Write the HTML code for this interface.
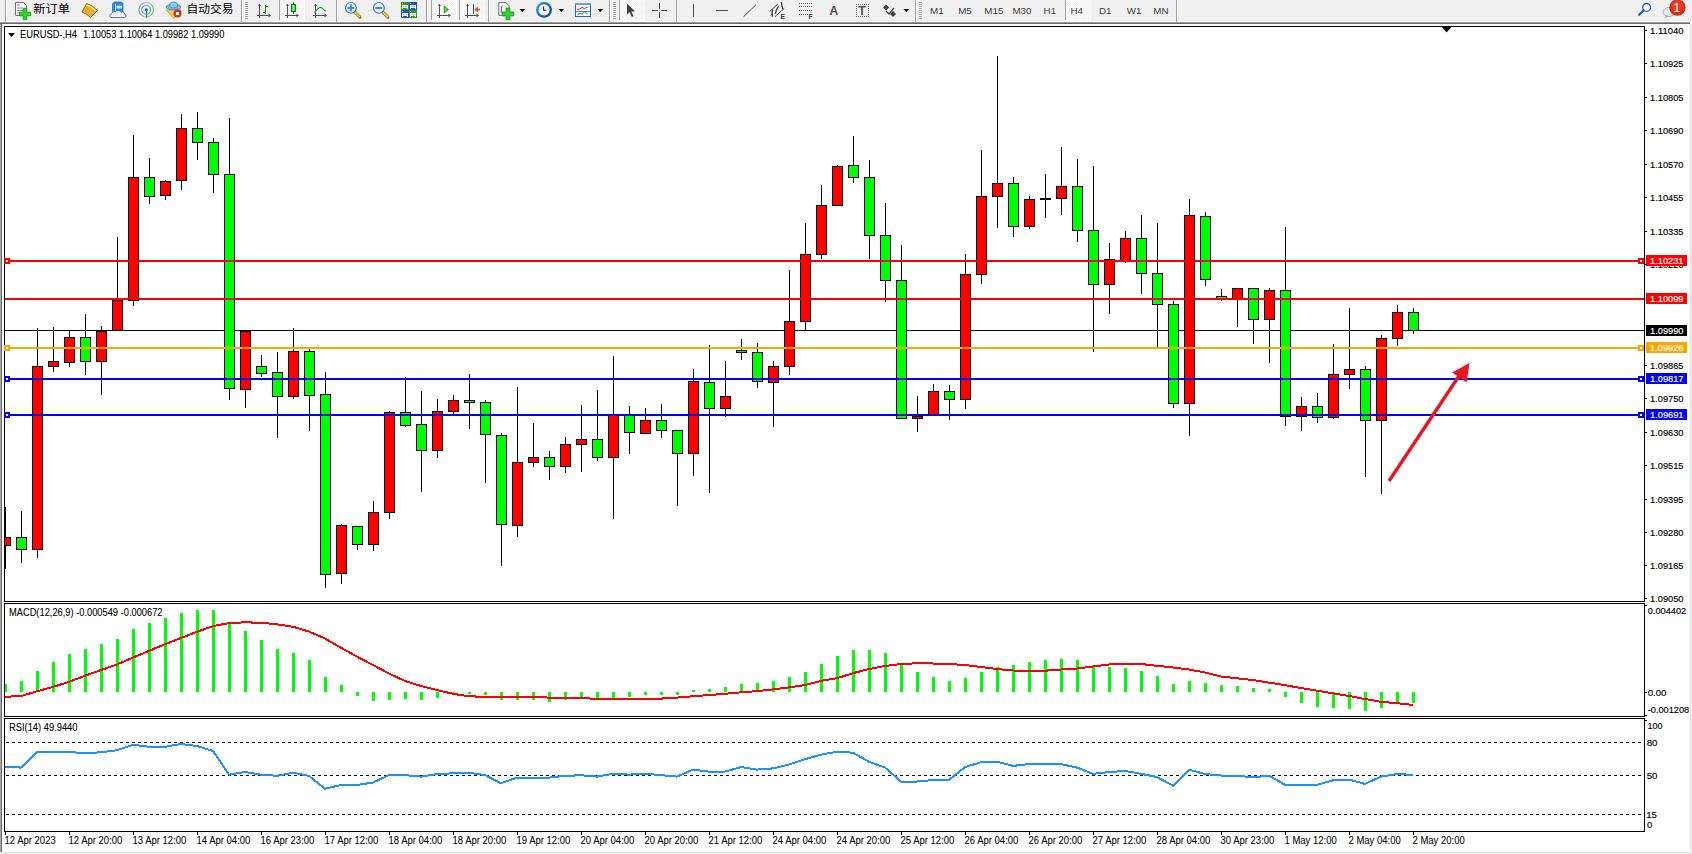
<!DOCTYPE html>
<html><head><meta charset="utf-8"><title>MT4 EURUSD H4</title>
<style>html,body{margin:0;padding:0;background:#f0f0f0;overflow:hidden}svg{display:block}text{font-family:'Liberation Sans', 'Noto Sans CJK SC', sans-serif}</style></head>
<body><svg width="1692" height="854" viewBox="0 0 1692 854" shape-rendering="crispEdges">
<rect x="0" y="0" width="1692" height="854" fill="#f0f0f0"/>
<rect x="0" y="21" width="1690" height="1" fill="#f6f6f6"/>
<rect x="0" y="22" width="1690" height="1" fill="#a0a0a0"/>
<rect x="0" y="23" width="1690" height="1" fill="#696969"/>
<rect x="0" y="24" width="2" height="828" fill="#a8a8a8"/>
<rect x="1" y="24" width="1" height="828" fill="#6a6a6a"/>
<rect x="2" y="24" width="1688" height="828" fill="#ffffff"/>
<rect x="1690" y="24" width="1" height="829" fill="#e3e3e3"/>
<rect x="0" y="852" width="1691" height="1" fill="#e3e3e3"/>
<rect x="4" y="26" width="1641" height="1" fill="#000"/>
<rect x="4" y="601" width="1641" height="1" fill="#000"/>
<rect x="4" y="26" width="1" height="576" fill="#000"/>
<rect x="1644" y="26" width="1" height="576" fill="#000"/>
<rect x="4" y="603" width="1641" height="1" fill="#000"/>
<rect x="4" y="716" width="1641" height="1" fill="#000"/>
<rect x="4" y="603" width="1" height="114" fill="#000"/>
<rect x="1644" y="603" width="1" height="114" fill="#000"/>
<rect x="4" y="718" width="1641" height="1" fill="#000"/>
<rect x="4" y="831" width="1641" height="1" fill="#000"/>
<rect x="4" y="718" width="1" height="114" fill="#000"/>
<rect x="1644" y="718" width="1" height="114" fill="#000"/>
<rect x="5" y="330" width="1639" height="1" fill="#000000"/>
<rect x="5" y="507" width="1" height="62" fill="#000"/>
<rect x="5" y="537" width="6" height="9" fill="#000"/>
<rect x="5" y="538" width="5" height="7" fill="#ff0000"/>
<rect x="21" y="511" width="1" height="52" fill="#000"/>
<rect x="16" y="537" width="11" height="13" fill="#000"/>
<rect x="17" y="538" width="9" height="11" fill="#00ff00"/>
<rect x="37" y="328" width="1" height="230" fill="#000"/>
<rect x="32" y="366" width="11" height="184" fill="#000"/>
<rect x="33" y="367" width="9" height="182" fill="#ff0000"/>
<rect x="53" y="327" width="1" height="45" fill="#000"/>
<rect x="48" y="361" width="11" height="6" fill="#000"/>
<rect x="49" y="362" width="9" height="4" fill="#ff0000"/>
<rect x="69" y="330" width="1" height="37" fill="#000"/>
<rect x="64" y="337" width="11" height="26" fill="#000"/>
<rect x="65" y="338" width="9" height="24" fill="#ff0000"/>
<rect x="85" y="314" width="1" height="61" fill="#000"/>
<rect x="80" y="337" width="11" height="25" fill="#000"/>
<rect x="81" y="338" width="9" height="23" fill="#00ff00"/>
<rect x="101" y="326" width="1" height="69" fill="#000"/>
<rect x="96" y="331" width="11" height="31" fill="#000"/>
<rect x="97" y="332" width="9" height="29" fill="#ff0000"/>
<rect x="117" y="237" width="1" height="94" fill="#000"/>
<rect x="112" y="300" width="11" height="31" fill="#000"/>
<rect x="113" y="301" width="9" height="29" fill="#ff0000"/>
<rect x="133" y="135" width="1" height="171" fill="#000"/>
<rect x="128" y="177" width="11" height="124" fill="#000"/>
<rect x="129" y="178" width="9" height="122" fill="#ff0000"/>
<rect x="149" y="158" width="1" height="46" fill="#000"/>
<rect x="144" y="177" width="11" height="20" fill="#000"/>
<rect x="145" y="178" width="9" height="18" fill="#00ff00"/>
<rect x="165" y="180" width="1" height="20" fill="#000"/>
<rect x="160" y="181" width="11" height="15" fill="#000"/>
<rect x="161" y="182" width="9" height="13" fill="#ff0000"/>
<rect x="181" y="114" width="1" height="76" fill="#000"/>
<rect x="176" y="128" width="11" height="53" fill="#000"/>
<rect x="177" y="129" width="9" height="51" fill="#ff0000"/>
<rect x="197" y="112" width="1" height="48" fill="#000"/>
<rect x="192" y="128" width="11" height="15" fill="#000"/>
<rect x="193" y="129" width="9" height="13" fill="#00ff00"/>
<rect x="213" y="138" width="1" height="55" fill="#000"/>
<rect x="208" y="142" width="11" height="33" fill="#000"/>
<rect x="209" y="143" width="9" height="31" fill="#00ff00"/>
<rect x="229" y="118" width="1" height="282" fill="#000"/>
<rect x="224" y="174" width="11" height="215" fill="#000"/>
<rect x="225" y="175" width="9" height="213" fill="#00ff00"/>
<rect x="245" y="331" width="1" height="77" fill="#000"/>
<rect x="240" y="331" width="11" height="59" fill="#000"/>
<rect x="241" y="332" width="9" height="57" fill="#ff0000"/>
<rect x="261" y="355" width="1" height="22" fill="#000"/>
<rect x="256" y="366" width="11" height="8" fill="#000"/>
<rect x="257" y="367" width="9" height="6" fill="#00ff00"/>
<rect x="277" y="352" width="1" height="86" fill="#000"/>
<rect x="272" y="372" width="11" height="25" fill="#000"/>
<rect x="273" y="373" width="9" height="23" fill="#00ff00"/>
<rect x="293" y="328" width="1" height="71" fill="#000"/>
<rect x="288" y="351" width="11" height="46" fill="#000"/>
<rect x="289" y="352" width="9" height="44" fill="#ff0000"/>
<rect x="309" y="348" width="1" height="83" fill="#000"/>
<rect x="304" y="351" width="11" height="45" fill="#000"/>
<rect x="305" y="352" width="9" height="43" fill="#00ff00"/>
<rect x="325" y="372" width="1" height="216" fill="#000"/>
<rect x="320" y="394" width="11" height="181" fill="#000"/>
<rect x="321" y="395" width="9" height="179" fill="#00ff00"/>
<rect x="341" y="524" width="1" height="60" fill="#000"/>
<rect x="336" y="525" width="11" height="49" fill="#000"/>
<rect x="337" y="526" width="9" height="47" fill="#ff0000"/>
<rect x="357" y="526" width="1" height="24" fill="#000"/>
<rect x="352" y="526" width="11" height="19" fill="#000"/>
<rect x="353" y="527" width="9" height="17" fill="#00ff00"/>
<rect x="373" y="501" width="1" height="50" fill="#000"/>
<rect x="368" y="512" width="11" height="33" fill="#000"/>
<rect x="369" y="513" width="9" height="31" fill="#ff0000"/>
<rect x="389" y="411" width="1" height="108" fill="#000"/>
<rect x="384" y="412" width="11" height="101" fill="#000"/>
<rect x="385" y="413" width="9" height="99" fill="#ff0000"/>
<rect x="405" y="377" width="1" height="50" fill="#000"/>
<rect x="400" y="412" width="11" height="14" fill="#000"/>
<rect x="401" y="413" width="9" height="12" fill="#00ff00"/>
<rect x="421" y="391" width="1" height="101" fill="#000"/>
<rect x="416" y="424" width="11" height="27" fill="#000"/>
<rect x="417" y="425" width="9" height="25" fill="#00ff00"/>
<rect x="437" y="399" width="1" height="59" fill="#000"/>
<rect x="432" y="411" width="11" height="40" fill="#000"/>
<rect x="433" y="412" width="9" height="38" fill="#ff0000"/>
<rect x="453" y="395" width="1" height="19" fill="#000"/>
<rect x="448" y="400" width="11" height="12" fill="#000"/>
<rect x="449" y="401" width="9" height="10" fill="#ff0000"/>
<rect x="469" y="374" width="1" height="55" fill="#000"/>
<rect x="464" y="400" width="11" height="3" fill="#000"/>
<rect x="465" y="401" width="9" height="1" fill="#00ff00"/>
<rect x="485" y="400" width="1" height="83" fill="#000"/>
<rect x="480" y="402" width="11" height="33" fill="#000"/>
<rect x="481" y="403" width="9" height="31" fill="#00ff00"/>
<rect x="501" y="433" width="1" height="133" fill="#000"/>
<rect x="496" y="435" width="11" height="90" fill="#000"/>
<rect x="497" y="436" width="9" height="88" fill="#00ff00"/>
<rect x="517" y="387" width="1" height="150" fill="#000"/>
<rect x="512" y="462" width="11" height="64" fill="#000"/>
<rect x="513" y="463" width="9" height="62" fill="#ff0000"/>
<rect x="533" y="423" width="1" height="44" fill="#000"/>
<rect x="528" y="457" width="11" height="6" fill="#000"/>
<rect x="529" y="458" width="9" height="4" fill="#ff0000"/>
<rect x="549" y="451" width="1" height="29" fill="#000"/>
<rect x="544" y="457" width="11" height="10" fill="#000"/>
<rect x="545" y="458" width="9" height="8" fill="#00ff00"/>
<rect x="565" y="437" width="1" height="36" fill="#000"/>
<rect x="560" y="444" width="11" height="23" fill="#000"/>
<rect x="561" y="445" width="9" height="21" fill="#ff0000"/>
<rect x="581" y="405" width="1" height="67" fill="#000"/>
<rect x="576" y="439" width="11" height="6" fill="#000"/>
<rect x="577" y="440" width="9" height="4" fill="#ff0000"/>
<rect x="597" y="390" width="1" height="71" fill="#000"/>
<rect x="592" y="439" width="11" height="19" fill="#000"/>
<rect x="593" y="440" width="9" height="17" fill="#00ff00"/>
<rect x="613" y="356" width="1" height="163" fill="#000"/>
<rect x="608" y="415" width="11" height="43" fill="#000"/>
<rect x="609" y="416" width="9" height="41" fill="#ff0000"/>
<rect x="629" y="406" width="1" height="48" fill="#000"/>
<rect x="624" y="415" width="11" height="18" fill="#000"/>
<rect x="625" y="416" width="9" height="16" fill="#00ff00"/>
<rect x="645" y="408" width="1" height="26" fill="#000"/>
<rect x="640" y="420" width="11" height="14" fill="#000"/>
<rect x="641" y="421" width="9" height="12" fill="#ff0000"/>
<rect x="661" y="404" width="1" height="34" fill="#000"/>
<rect x="656" y="420" width="11" height="11" fill="#000"/>
<rect x="657" y="421" width="9" height="9" fill="#00ff00"/>
<rect x="677" y="430" width="1" height="76" fill="#000"/>
<rect x="672" y="430" width="11" height="24" fill="#000"/>
<rect x="673" y="431" width="9" height="22" fill="#00ff00"/>
<rect x="693" y="369" width="1" height="107" fill="#000"/>
<rect x="688" y="381" width="11" height="73" fill="#000"/>
<rect x="689" y="382" width="9" height="71" fill="#ff0000"/>
<rect x="709" y="345" width="1" height="148" fill="#000"/>
<rect x="704" y="382" width="11" height="27" fill="#000"/>
<rect x="705" y="383" width="9" height="25" fill="#00ff00"/>
<rect x="725" y="361" width="1" height="56" fill="#000"/>
<rect x="720" y="396" width="11" height="13" fill="#000"/>
<rect x="721" y="397" width="9" height="11" fill="#ff0000"/>
<rect x="741" y="339" width="1" height="21" fill="#000"/>
<rect x="736" y="350" width="11" height="3" fill="#000"/>
<rect x="737" y="351" width="9" height="1" fill="#00ff00"/>
<rect x="757" y="343" width="1" height="45" fill="#000"/>
<rect x="752" y="352" width="11" height="30" fill="#000"/>
<rect x="753" y="353" width="9" height="28" fill="#00ff00"/>
<rect x="773" y="361" width="1" height="66" fill="#000"/>
<rect x="768" y="366" width="11" height="17" fill="#000"/>
<rect x="769" y="367" width="9" height="15" fill="#ff0000"/>
<rect x="789" y="270" width="1" height="105" fill="#000"/>
<rect x="784" y="321" width="11" height="46" fill="#000"/>
<rect x="785" y="322" width="9" height="44" fill="#ff0000"/>
<rect x="805" y="223" width="1" height="108" fill="#000"/>
<rect x="800" y="254" width="11" height="68" fill="#000"/>
<rect x="801" y="255" width="9" height="66" fill="#ff0000"/>
<rect x="821" y="185" width="1" height="74" fill="#000"/>
<rect x="816" y="205" width="11" height="50" fill="#000"/>
<rect x="817" y="206" width="9" height="48" fill="#ff0000"/>
<rect x="837" y="165" width="1" height="41" fill="#000"/>
<rect x="832" y="166" width="11" height="40" fill="#000"/>
<rect x="833" y="167" width="9" height="38" fill="#ff0000"/>
<rect x="853" y="136" width="1" height="47" fill="#000"/>
<rect x="848" y="165" width="11" height="13" fill="#000"/>
<rect x="849" y="166" width="9" height="11" fill="#00ff00"/>
<rect x="869" y="160" width="1" height="99" fill="#000"/>
<rect x="864" y="177" width="11" height="59" fill="#000"/>
<rect x="865" y="178" width="9" height="57" fill="#00ff00"/>
<rect x="885" y="203" width="1" height="99" fill="#000"/>
<rect x="880" y="235" width="11" height="46" fill="#000"/>
<rect x="881" y="236" width="9" height="44" fill="#00ff00"/>
<rect x="901" y="245" width="1" height="174" fill="#000"/>
<rect x="896" y="280" width="11" height="139" fill="#000"/>
<rect x="897" y="281" width="9" height="137" fill="#00ff00"/>
<rect x="917" y="396" width="1" height="36" fill="#000"/>
<rect x="912" y="416" width="11" height="3" fill="#000"/>
<rect x="913" y="417" width="9" height="1" fill="#ff0000"/>
<rect x="933" y="384" width="1" height="31" fill="#000"/>
<rect x="928" y="391" width="11" height="24" fill="#000"/>
<rect x="929" y="392" width="9" height="22" fill="#ff0000"/>
<rect x="949" y="385" width="1" height="35" fill="#000"/>
<rect x="944" y="391" width="11" height="9" fill="#000"/>
<rect x="945" y="392" width="9" height="7" fill="#00ff00"/>
<rect x="965" y="254" width="1" height="155" fill="#000"/>
<rect x="960" y="274" width="11" height="126" fill="#000"/>
<rect x="961" y="275" width="9" height="124" fill="#ff0000"/>
<rect x="981" y="150" width="1" height="134" fill="#000"/>
<rect x="976" y="196" width="11" height="79" fill="#000"/>
<rect x="977" y="197" width="9" height="77" fill="#ff0000"/>
<rect x="997" y="56" width="1" height="172" fill="#000"/>
<rect x="992" y="183" width="11" height="14" fill="#000"/>
<rect x="993" y="184" width="9" height="12" fill="#ff0000"/>
<rect x="1013" y="177" width="1" height="60" fill="#000"/>
<rect x="1008" y="183" width="11" height="44" fill="#000"/>
<rect x="1009" y="184" width="9" height="42" fill="#00ff00"/>
<rect x="1029" y="196" width="1" height="33" fill="#000"/>
<rect x="1024" y="199" width="11" height="28" fill="#000"/>
<rect x="1025" y="200" width="9" height="26" fill="#ff0000"/>
<rect x="1045" y="174" width="1" height="44" fill="#000"/>
<rect x="1040" y="198" width="11" height="2" fill="#000"/>
<rect x="1061" y="147" width="1" height="68" fill="#000"/>
<rect x="1056" y="186" width="11" height="13" fill="#000"/>
<rect x="1057" y="187" width="9" height="11" fill="#ff0000"/>
<rect x="1077" y="159" width="1" height="83" fill="#000"/>
<rect x="1072" y="186" width="11" height="45" fill="#000"/>
<rect x="1073" y="187" width="9" height="43" fill="#00ff00"/>
<rect x="1093" y="166" width="1" height="186" fill="#000"/>
<rect x="1088" y="230" width="11" height="55" fill="#000"/>
<rect x="1089" y="231" width="9" height="53" fill="#00ff00"/>
<rect x="1109" y="243" width="1" height="71" fill="#000"/>
<rect x="1104" y="259" width="11" height="26" fill="#000"/>
<rect x="1105" y="260" width="9" height="24" fill="#ff0000"/>
<rect x="1125" y="231" width="1" height="32" fill="#000"/>
<rect x="1120" y="238" width="11" height="24" fill="#000"/>
<rect x="1121" y="239" width="9" height="22" fill="#ff0000"/>
<rect x="1141" y="215" width="1" height="79" fill="#000"/>
<rect x="1136" y="238" width="11" height="36" fill="#000"/>
<rect x="1137" y="239" width="9" height="34" fill="#00ff00"/>
<rect x="1157" y="223" width="1" height="125" fill="#000"/>
<rect x="1152" y="273" width="11" height="32" fill="#000"/>
<rect x="1153" y="274" width="9" height="30" fill="#00ff00"/>
<rect x="1173" y="301" width="1" height="107" fill="#000"/>
<rect x="1168" y="304" width="11" height="100" fill="#000"/>
<rect x="1169" y="305" width="9" height="98" fill="#00ff00"/>
<rect x="1189" y="199" width="1" height="237" fill="#000"/>
<rect x="1184" y="215" width="11" height="189" fill="#000"/>
<rect x="1185" y="216" width="9" height="187" fill="#ff0000"/>
<rect x="1205" y="212" width="1" height="74" fill="#000"/>
<rect x="1200" y="216" width="11" height="64" fill="#000"/>
<rect x="1201" y="217" width="9" height="62" fill="#00ff00"/>
<rect x="1221" y="289" width="1" height="12" fill="#000"/>
<rect x="1216" y="296" width="11" height="3" fill="#000"/>
<rect x="1217" y="297" width="9" height="1" fill="#00ff00"/>
<rect x="1237" y="288" width="1" height="39" fill="#000"/>
<rect x="1232" y="288" width="11" height="11" fill="#000"/>
<rect x="1233" y="289" width="9" height="9" fill="#ff0000"/>
<rect x="1253" y="288" width="1" height="56" fill="#000"/>
<rect x="1248" y="288" width="11" height="32" fill="#000"/>
<rect x="1249" y="289" width="9" height="30" fill="#00ff00"/>
<rect x="1269" y="288" width="1" height="75" fill="#000"/>
<rect x="1264" y="290" width="11" height="30" fill="#000"/>
<rect x="1265" y="291" width="9" height="28" fill="#ff0000"/>
<rect x="1285" y="227" width="1" height="199" fill="#000"/>
<rect x="1280" y="290" width="11" height="127" fill="#000"/>
<rect x="1281" y="291" width="9" height="125" fill="#00ff00"/>
<rect x="1301" y="397" width="1" height="34" fill="#000"/>
<rect x="1296" y="406" width="11" height="11" fill="#000"/>
<rect x="1297" y="407" width="9" height="9" fill="#ff0000"/>
<rect x="1317" y="393" width="1" height="30" fill="#000"/>
<rect x="1312" y="406" width="11" height="12" fill="#000"/>
<rect x="1313" y="407" width="9" height="10" fill="#00ff00"/>
<rect x="1333" y="344" width="1" height="75" fill="#000"/>
<rect x="1328" y="374" width="11" height="44" fill="#000"/>
<rect x="1329" y="375" width="9" height="42" fill="#ff0000"/>
<rect x="1349" y="308" width="1" height="81" fill="#000"/>
<rect x="1344" y="369" width="11" height="6" fill="#000"/>
<rect x="1345" y="370" width="9" height="4" fill="#ff0000"/>
<rect x="1365" y="366" width="1" height="111" fill="#000"/>
<rect x="1360" y="369" width="11" height="52" fill="#000"/>
<rect x="1361" y="370" width="9" height="50" fill="#00ff00"/>
<rect x="1381" y="335" width="1" height="159" fill="#000"/>
<rect x="1376" y="338" width="11" height="83" fill="#000"/>
<rect x="1377" y="339" width="9" height="81" fill="#ff0000"/>
<rect x="1397" y="305" width="1" height="41" fill="#000"/>
<rect x="1392" y="312" width="11" height="27" fill="#000"/>
<rect x="1393" y="313" width="9" height="25" fill="#ff0000"/>
<rect x="1413" y="308" width="1" height="26" fill="#000"/>
<rect x="1408" y="312" width="11" height="19" fill="#000"/>
<rect x="1409" y="313" width="9" height="17" fill="#00ff00"/>
<rect x="5" y="260" width="1639" height="2" fill="#ff0000"/>
<rect x="5" y="298" width="1639" height="2" fill="#ff0000"/>
<rect x="5" y="347" width="1639" height="2" fill="#ffa500"/>
<rect x="5" y="378" width="1639" height="2" fill="#0000ff"/>
<rect x="5" y="414" width="1639" height="2" fill="#0000ff"/>
<rect x="4" y="258" width="6" height="6" fill="#ff0000"/>
<rect x="6" y="260" width="2" height="2" fill="#ffffff"/>
<rect x="1638" y="258" width="6" height="6" fill="#ff0000"/>
<rect x="1640" y="260" width="2" height="2" fill="#ffffff"/>
<rect x="4" y="345" width="6" height="6" fill="#ffa500"/>
<rect x="6" y="347" width="2" height="2" fill="#ffffff"/>
<rect x="1638" y="345" width="6" height="6" fill="#ffa500"/>
<rect x="1640" y="347" width="2" height="2" fill="#ffffff"/>
<rect x="4" y="376" width="6" height="6" fill="#0000ff"/>
<rect x="6" y="378" width="2" height="2" fill="#ffffff"/>
<rect x="1638" y="376" width="6" height="6" fill="#0000ff"/>
<rect x="1640" y="378" width="2" height="2" fill="#ffffff"/>
<rect x="4" y="412" width="6" height="6" fill="#0000ff"/>
<rect x="6" y="414" width="2" height="2" fill="#ffffff"/>
<rect x="1638" y="412" width="6" height="6" fill="#0000ff"/>
<rect x="1640" y="414" width="2" height="2" fill="#ffffff"/>
<polygon points="1441,26 1452.2,26 1446.6,32.6" fill="#000" shape-rendering="auto"/>
<line x1="1389" y1="481" x2="1461" y2="373" stroke="#ea1520" stroke-width="3.4" stroke-linecap="butt" shape-rendering="auto"/>
<polygon points="1469.5,363 1452.1,372.4 1466.7,382.4" fill="#ea1520" shape-rendering="auto"/>
<polygon points="8,33 15,33 11.5,37" fill="#000" shape-rendering="auto"/>
<text transform="translate(20,37.5) scale(1,1.05)" x="0" y="0" font-size="9.6" fill="#000" stroke="#000" stroke-width="0.08" textLength="57" lengthAdjust="spacingAndGlyphs">EURUSD-,H4</text>
<text transform="translate(82.9,37.5) scale(1,1.05)" x="0" y="0" font-size="9.6" fill="#000" stroke="#000" stroke-width="0.08" textLength="141.5" lengthAdjust="spacingAndGlyphs">1.10053 1.10064 1.09982 1.09990</text>
<rect x="1645" y="30" width="2" height="1" fill="#000"/>
<text x="1650" y="34" font-size="9.6" fill="#000" stroke="#000" stroke-width="0.15" textLength="33.5" lengthAdjust="spacingAndGlyphs">1.11040</text>
<rect x="1645" y="63" width="2" height="1" fill="#000"/>
<text x="1650" y="67" font-size="9.6" fill="#000" stroke="#000" stroke-width="0.15" textLength="33.5" lengthAdjust="spacingAndGlyphs">1.10925</text>
<rect x="1645" y="97" width="2" height="1" fill="#000"/>
<text x="1650" y="101" font-size="9.6" fill="#000" stroke="#000" stroke-width="0.15" textLength="33.5" lengthAdjust="spacingAndGlyphs">1.10805</text>
<rect x="1645" y="130" width="2" height="1" fill="#000"/>
<text x="1650" y="134" font-size="9.6" fill="#000" stroke="#000" stroke-width="0.15" textLength="33.5" lengthAdjust="spacingAndGlyphs">1.10690</text>
<rect x="1645" y="164" width="2" height="1" fill="#000"/>
<text x="1650" y="168" font-size="9.6" fill="#000" stroke="#000" stroke-width="0.15" textLength="33.5" lengthAdjust="spacingAndGlyphs">1.10570</text>
<rect x="1645" y="197" width="2" height="1" fill="#000"/>
<text x="1650" y="201" font-size="9.6" fill="#000" stroke="#000" stroke-width="0.15" textLength="33.5" lengthAdjust="spacingAndGlyphs">1.10455</text>
<rect x="1645" y="231" width="2" height="1" fill="#000"/>
<text x="1650" y="235" font-size="9.6" fill="#000" stroke="#000" stroke-width="0.15" textLength="33.5" lengthAdjust="spacingAndGlyphs">1.10335</text>
<rect x="1645" y="264" width="2" height="1" fill="#000"/>
<text x="1650" y="268" font-size="9.6" fill="#000" stroke="#000" stroke-width="0.15" textLength="33.5" lengthAdjust="spacingAndGlyphs">1.10220</text>
<rect x="1645" y="365" width="2" height="1" fill="#000"/>
<text x="1650" y="369" font-size="9.6" fill="#000" stroke="#000" stroke-width="0.15" textLength="33.5" lengthAdjust="spacingAndGlyphs">1.09865</text>
<rect x="1645" y="398" width="2" height="1" fill="#000"/>
<text x="1650" y="402" font-size="9.6" fill="#000" stroke="#000" stroke-width="0.15" textLength="33.5" lengthAdjust="spacingAndGlyphs">1.09750</text>
<rect x="1645" y="432" width="2" height="1" fill="#000"/>
<text x="1650" y="436" font-size="9.6" fill="#000" stroke="#000" stroke-width="0.15" textLength="33.5" lengthAdjust="spacingAndGlyphs">1.09630</text>
<rect x="1645" y="465" width="2" height="1" fill="#000"/>
<text x="1650" y="469" font-size="9.6" fill="#000" stroke="#000" stroke-width="0.15" textLength="33.5" lengthAdjust="spacingAndGlyphs">1.09515</text>
<rect x="1645" y="499" width="2" height="1" fill="#000"/>
<text x="1650" y="503" font-size="9.6" fill="#000" stroke="#000" stroke-width="0.15" textLength="33.5" lengthAdjust="spacingAndGlyphs">1.09395</text>
<rect x="1645" y="532" width="2" height="1" fill="#000"/>
<text x="1650" y="536" font-size="9.6" fill="#000" stroke="#000" stroke-width="0.15" textLength="33.5" lengthAdjust="spacingAndGlyphs">1.09280</text>
<rect x="1645" y="565" width="2" height="1" fill="#000"/>
<text x="1650" y="569" font-size="9.6" fill="#000" stroke="#000" stroke-width="0.15" textLength="33.5" lengthAdjust="spacingAndGlyphs">1.09165</text>
<rect x="1645" y="598" width="2" height="1" fill="#000"/>
<text x="1650" y="602" font-size="9.6" fill="#000" stroke="#000" stroke-width="0.15" textLength="33.5" lengthAdjust="spacingAndGlyphs">1.09050</text>
<rect x="1646" y="255" width="41" height="11" fill="#ff0000"/>
<text x="1650" y="264" font-size="9.6" fill="#fff" stroke="#fff" stroke-width="0.15" textLength="33.5" lengthAdjust="spacingAndGlyphs">1.10231</text>
<rect x="1646" y="293" width="41" height="11" fill="#ff0000"/>
<text x="1650" y="302" font-size="9.6" fill="#fff" stroke="#fff" stroke-width="0.15" textLength="33.5" lengthAdjust="spacingAndGlyphs">1.10099</text>
<rect x="1646" y="325" width="41" height="11" fill="#000000"/>
<text x="1650" y="334" font-size="9.6" fill="#fff" stroke="#fff" stroke-width="0.15" textLength="33.5" lengthAdjust="spacingAndGlyphs">1.09990</text>
<rect x="1646" y="342" width="41" height="11" fill="#ffa500"/>
<text x="1650" y="351" font-size="9.6" fill="#fff" stroke="#fff" stroke-width="0.15" textLength="33.5" lengthAdjust="spacingAndGlyphs">1.09926</text>
<rect x="1646" y="373" width="41" height="11" fill="#0000ff"/>
<text x="1650" y="382" font-size="9.6" fill="#fff" stroke="#fff" stroke-width="0.15" textLength="33.5" lengthAdjust="spacingAndGlyphs">1.09817</text>
<rect x="1646" y="409" width="41" height="11" fill="#0000ff"/>
<text x="1650" y="418" font-size="9.6" fill="#fff" stroke="#fff" stroke-width="0.15" textLength="33.5" lengthAdjust="spacingAndGlyphs">1.09691</text>
<rect x="5" y="684" width="2" height="8" fill="#00ff00"/>
<rect x="20" y="681" width="3" height="11" fill="#00ff00"/>
<rect x="36" y="671" width="3" height="21" fill="#00ff00"/>
<rect x="52" y="662" width="3" height="30" fill="#00ff00"/>
<rect x="68" y="654" width="3" height="38" fill="#00ff00"/>
<rect x="84" y="649" width="3" height="43" fill="#00ff00"/>
<rect x="100" y="644" width="3" height="48" fill="#00ff00"/>
<rect x="116" y="639" width="3" height="53" fill="#00ff00"/>
<rect x="132" y="629" width="3" height="63" fill="#00ff00"/>
<rect x="148" y="623" width="3" height="69" fill="#00ff00"/>
<rect x="164" y="618" width="3" height="74" fill="#00ff00"/>
<rect x="180" y="613" width="3" height="79" fill="#00ff00"/>
<rect x="196" y="610" width="3" height="82" fill="#00ff00"/>
<rect x="212" y="610" width="3" height="82" fill="#00ff00"/>
<rect x="228" y="624" width="3" height="68" fill="#00ff00"/>
<rect x="244" y="631" width="3" height="61" fill="#00ff00"/>
<rect x="260" y="640" width="3" height="52" fill="#00ff00"/>
<rect x="276" y="649" width="3" height="43" fill="#00ff00"/>
<rect x="292" y="653" width="3" height="39" fill="#00ff00"/>
<rect x="308" y="660" width="3" height="32" fill="#00ff00"/>
<rect x="324" y="677" width="3" height="15" fill="#00ff00"/>
<rect x="340" y="685" width="3" height="7" fill="#00ff00"/>
<rect x="356" y="692" width="3" height="4" fill="#00ff00"/>
<rect x="372" y="692" width="3" height="9" fill="#00ff00"/>
<rect x="388" y="692" width="3" height="8" fill="#00ff00"/>
<rect x="404" y="692" width="3" height="7" fill="#00ff00"/>
<rect x="420" y="692" width="3" height="8" fill="#00ff00"/>
<rect x="436" y="692" width="3" height="6" fill="#00ff00"/>
<rect x="452" y="692" width="3" height="3" fill="#00ff00"/>
<rect x="468" y="692" width="3" height="2" fill="#00ff00"/>
<rect x="484" y="692" width="3" height="3" fill="#00ff00"/>
<rect x="500" y="692" width="3" height="8" fill="#00ff00"/>
<rect x="516" y="692" width="3" height="8" fill="#00ff00"/>
<rect x="532" y="692" width="3" height="8" fill="#00ff00"/>
<rect x="548" y="692" width="3" height="10" fill="#00ff00"/>
<rect x="564" y="692" width="3" height="8" fill="#00ff00"/>
<rect x="580" y="692" width="3" height="7" fill="#00ff00"/>
<rect x="596" y="692" width="3" height="6" fill="#00ff00"/>
<rect x="612" y="692" width="3" height="6" fill="#00ff00"/>
<rect x="628" y="692" width="3" height="5" fill="#00ff00"/>
<rect x="644" y="692" width="3" height="3" fill="#00ff00"/>
<rect x="660" y="692" width="3" height="3" fill="#00ff00"/>
<rect x="676" y="692" width="3" height="3" fill="#00ff00"/>
<rect x="692" y="690" width="3" height="2" fill="#00ff00"/>
<rect x="708" y="689" width="3" height="3" fill="#00ff00"/>
<rect x="724" y="687" width="3" height="5" fill="#00ff00"/>
<rect x="740" y="684" width="3" height="8" fill="#00ff00"/>
<rect x="756" y="683" width="3" height="9" fill="#00ff00"/>
<rect x="772" y="681" width="3" height="11" fill="#00ff00"/>
<rect x="788" y="677" width="3" height="15" fill="#00ff00"/>
<rect x="804" y="672" width="3" height="20" fill="#00ff00"/>
<rect x="820" y="664" width="3" height="28" fill="#00ff00"/>
<rect x="836" y="656" width="3" height="36" fill="#00ff00"/>
<rect x="852" y="650" width="3" height="42" fill="#00ff00"/>
<rect x="868" y="650" width="3" height="42" fill="#00ff00"/>
<rect x="884" y="653" width="3" height="39" fill="#00ff00"/>
<rect x="900" y="665" width="3" height="27" fill="#00ff00"/>
<rect x="916" y="672" width="3" height="20" fill="#00ff00"/>
<rect x="932" y="677" width="3" height="15" fill="#00ff00"/>
<rect x="948" y="681" width="3" height="11" fill="#00ff00"/>
<rect x="964" y="678" width="3" height="14" fill="#00ff00"/>
<rect x="980" y="672" width="3" height="20" fill="#00ff00"/>
<rect x="996" y="667" width="3" height="25" fill="#00ff00"/>
<rect x="1012" y="665" width="3" height="27" fill="#00ff00"/>
<rect x="1028" y="662" width="3" height="30" fill="#00ff00"/>
<rect x="1044" y="660" width="3" height="32" fill="#00ff00"/>
<rect x="1060" y="659" width="3" height="33" fill="#00ff00"/>
<rect x="1076" y="660" width="3" height="32" fill="#00ff00"/>
<rect x="1092" y="665" width="3" height="27" fill="#00ff00"/>
<rect x="1108" y="667" width="3" height="25" fill="#00ff00"/>
<rect x="1124" y="668" width="3" height="24" fill="#00ff00"/>
<rect x="1140" y="671" width="3" height="21" fill="#00ff00"/>
<rect x="1156" y="676" width="3" height="16" fill="#00ff00"/>
<rect x="1172" y="684" width="3" height="8" fill="#00ff00"/>
<rect x="1188" y="681" width="3" height="11" fill="#00ff00"/>
<rect x="1204" y="683" width="3" height="9" fill="#00ff00"/>
<rect x="1220" y="685" width="3" height="7" fill="#00ff00"/>
<rect x="1236" y="686" width="3" height="6" fill="#00ff00"/>
<rect x="1252" y="688" width="3" height="4" fill="#00ff00"/>
<rect x="1268" y="689" width="3" height="3" fill="#00ff00"/>
<rect x="1284" y="692" width="3" height="5" fill="#00ff00"/>
<rect x="1300" y="692" width="3" height="11" fill="#00ff00"/>
<rect x="1316" y="692" width="3" height="15" fill="#00ff00"/>
<rect x="1332" y="692" width="3" height="16" fill="#00ff00"/>
<rect x="1348" y="692" width="3" height="17" fill="#00ff00"/>
<rect x="1364" y="692" width="3" height="19" fill="#00ff00"/>
<rect x="1380" y="692" width="3" height="16" fill="#00ff00"/>
<rect x="1396" y="692" width="3" height="11" fill="#00ff00"/>
<rect x="1412" y="692" width="3" height="11" fill="#00ff00"/>
<polyline points="5,696.8 21,696 37,691.3 53,686.9 69,681.9 85,675.7 101,670 117,664.5 133,657.6 149,650.9 165,644.2 181,638 197,631.8 213,626.1 229,623.1 245,622.3 261,622.8 277,624.3 293,626.8 309,631.5 325,638.5 341,647.7 357,656.6 373,665 389,673.5 405,681 421,686 437,690 453,693.8 469,696.3 485,696.8 501,696.8 517,696.8 533,696.8 549,697.6 565,698 581,698.4 597,698.6 613,698.8 629,698.8 645,698.8 661,698.6 677,697.6 693,696.3 709,695 725,693.8 741,692.3 757,691.1 773,689.4 789,687.4 805,685.1 821,680.9 837,678.2 853,673.2 869,669 885,666 901,664 917,663.3 933,663.5 949,664 965,665 981,667 997,669 1013,670.5 1029,670.7 1045,670.7 1061,669.5 1077,668.5 1093,666.5 1109,664.5 1125,663.8 1141,664 1157,665.8 1173,667.5 1189,669.5 1205,672.5 1221,676.5 1237,678.3 1253,680 1269,682.6 1285,685.2 1301,688 1317,690.7 1333,693.4 1349,696 1365,699 1381,701.8 1397,703.2 1413,705" fill="none" stroke="#ff0000" stroke-width="2" stroke-linejoin="round"/>
<text transform="translate(9,615.8) scale(1,1.08)" x="0" y="0" font-size="9.5" fill="#000" stroke="#000" stroke-width="0.08" textLength="153.5" lengthAdjust="spacingAndGlyphs">MACD(12,26,9) -0.000549 -0.000672</text>
<rect x="1645" y="605" width="2" height="1" fill="#000"/>
<text x="1647.7" y="614" font-size="9.6" fill="#000" stroke="#000" stroke-width="0.15" textLength="38.5" lengthAdjust="spacingAndGlyphs">0.004402</text>
<rect x="1645" y="692" width="2" height="1" fill="#000"/>
<text x="1647.7" y="696" font-size="9.6" fill="#000" stroke="#000" stroke-width="0.15" textLength="18.8" lengthAdjust="spacingAndGlyphs">0.00</text>
<rect x="1645" y="715" width="2" height="1" fill="#000"/>
<text x="1647.7" y="713" font-size="9.6" fill="#000" stroke="#000" stroke-width="0.15" textLength="41.5" lengthAdjust="spacingAndGlyphs">-0.001208</text>
<line x1="6" y1="742.5" x2="1642" y2="742.5" stroke="#000" stroke-width="1" stroke-dasharray="3,3"/>
<line x1="6" y1="775.5" x2="1642" y2="775.5" stroke="#000" stroke-width="1" stroke-dasharray="3,3"/>
<line x1="6" y1="814.5" x2="1642" y2="814.5" stroke="#000" stroke-width="1" stroke-dasharray="3,3"/>
<polyline points="5,766.6 21,767.6 37,752.2 53,751.7 69,751.7 85,753.5 101,752.2 117,750.2 133,744.8 149,746.8 165,746.8 181,744 197,746 213,751 229,774.6 245,772.1 261,774.6 277,775.8 293,772.8 309,775.8 325,788.7 341,785 357,785 373,782.5 389,775.1 405,775.1 421,776.6 437,774.1 453,773.3 469,772.8 485,775.1 501,783.3 517,777.6 533,777.6 549,777.6 565,775.8 581,775.3 597,776.6 613,773.8 629,774.6 645,773.8 661,775.1 677,776.6 693,769.6 709,771.6 725,771.6 741,767.1 757,769.6 773,768.4 789,764.6 805,759.2 821,754.7 837,751.7 853,752.7 869,761.7 885,767.6 901,781.5 917,781.5 933,780 949,780 965,767.1 981,762.2 997,761.7 1013,765.9 1029,764.1 1045,763.7 1061,764.1 1077,767.6 1093,773.8 1109,772.1 1125,770.9 1141,773.8 1157,777 1173,785.7 1189,769.6 1205,774 1221,775.5 1237,775.5 1253,777.5 1269,775.5 1285,784.8 1301,784.8 1317,784.8 1333,780.4 1349,779.6 1365,783.9 1381,776.6 1397,774 1413,774.9" fill="none" stroke="#1e90ff" stroke-width="2" stroke-linejoin="round"/>
<text transform="translate(9,730.6) scale(1,1.08)" x="0" y="0" font-size="9.5" fill="#000" stroke="#000" stroke-width="0.08" textLength="68.5" lengthAdjust="spacingAndGlyphs">RSI(14) 49.9440</text>
<rect x="1645" y="720" width="2" height="1" fill="#000"/>
<text x="1647.5" y="729" font-size="9.6" fill="#000" stroke="#000" stroke-width="0.15" textLength="15" lengthAdjust="spacingAndGlyphs">100</text>
<text x="1646.7" y="746" font-size="9.6" fill="#000" stroke="#000" stroke-width="0.15" textLength="10.8" lengthAdjust="spacingAndGlyphs">80</text>
<text x="1646.7" y="779" font-size="9.6" fill="#000" stroke="#000" stroke-width="0.15" textLength="10.8" lengthAdjust="spacingAndGlyphs">50</text>
<text x="1646.2" y="818" font-size="9.6" fill="#000" stroke="#000" stroke-width="0.15" textLength="10.8" lengthAdjust="spacingAndGlyphs">15</text>
<text x="1647" y="828" font-size="9.6" fill="#000" stroke="#000" stroke-width="0.15">0</text>
<rect x="5" y="832" width="1" height="3" fill="#000"/>
<text transform="translate(4.5,844) scale(1,1.13)" x="0" y="0" font-size="9.5" fill="#000" stroke="#000" stroke-width="0.05">12 Apr 2023</text>
<rect x="69" y="832" width="1" height="3" fill="#000"/>
<text transform="translate(68.5,844) scale(1,1.13)" x="0" y="0" font-size="9.5" fill="#000" stroke="#000" stroke-width="0.05">12 Apr 20:00</text>
<rect x="133" y="832" width="1" height="3" fill="#000"/>
<text transform="translate(132.5,844) scale(1,1.13)" x="0" y="0" font-size="9.5" fill="#000" stroke="#000" stroke-width="0.05">13 Apr 12:00</text>
<rect x="197" y="832" width="1" height="3" fill="#000"/>
<text transform="translate(196.5,844) scale(1,1.13)" x="0" y="0" font-size="9.5" fill="#000" stroke="#000" stroke-width="0.05">14 Apr 04:00</text>
<rect x="261" y="832" width="1" height="3" fill="#000"/>
<text transform="translate(260.5,844) scale(1,1.13)" x="0" y="0" font-size="9.5" fill="#000" stroke="#000" stroke-width="0.05">16 Apr 23:00</text>
<rect x="325" y="832" width="1" height="3" fill="#000"/>
<text transform="translate(324.5,844) scale(1,1.13)" x="0" y="0" font-size="9.5" fill="#000" stroke="#000" stroke-width="0.05">17 Apr 12:00</text>
<rect x="389" y="832" width="1" height="3" fill="#000"/>
<text transform="translate(388.5,844) scale(1,1.13)" x="0" y="0" font-size="9.5" fill="#000" stroke="#000" stroke-width="0.05">18 Apr 04:00</text>
<rect x="453" y="832" width="1" height="3" fill="#000"/>
<text transform="translate(452.5,844) scale(1,1.13)" x="0" y="0" font-size="9.5" fill="#000" stroke="#000" stroke-width="0.05">18 Apr 20:00</text>
<rect x="517" y="832" width="1" height="3" fill="#000"/>
<text transform="translate(516.5,844) scale(1,1.13)" x="0" y="0" font-size="9.5" fill="#000" stroke="#000" stroke-width="0.05">19 Apr 12:00</text>
<rect x="581" y="832" width="1" height="3" fill="#000"/>
<text transform="translate(580.5,844) scale(1,1.13)" x="0" y="0" font-size="9.5" fill="#000" stroke="#000" stroke-width="0.05">20 Apr 04:00</text>
<rect x="645" y="832" width="1" height="3" fill="#000"/>
<text transform="translate(644.5,844) scale(1,1.13)" x="0" y="0" font-size="9.5" fill="#000" stroke="#000" stroke-width="0.05">20 Apr 20:00</text>
<rect x="709" y="832" width="1" height="3" fill="#000"/>
<text transform="translate(708.5,844) scale(1,1.13)" x="0" y="0" font-size="9.5" fill="#000" stroke="#000" stroke-width="0.05">21 Apr 12:00</text>
<rect x="773" y="832" width="1" height="3" fill="#000"/>
<text transform="translate(772.5,844) scale(1,1.13)" x="0" y="0" font-size="9.5" fill="#000" stroke="#000" stroke-width="0.05">24 Apr 04:00</text>
<rect x="837" y="832" width="1" height="3" fill="#000"/>
<text transform="translate(836.5,844) scale(1,1.13)" x="0" y="0" font-size="9.5" fill="#000" stroke="#000" stroke-width="0.05">24 Apr 20:00</text>
<rect x="901" y="832" width="1" height="3" fill="#000"/>
<text transform="translate(900.5,844) scale(1,1.13)" x="0" y="0" font-size="9.5" fill="#000" stroke="#000" stroke-width="0.05">25 Apr 12:00</text>
<rect x="965" y="832" width="1" height="3" fill="#000"/>
<text transform="translate(964.5,844) scale(1,1.13)" x="0" y="0" font-size="9.5" fill="#000" stroke="#000" stroke-width="0.05">26 Apr 04:00</text>
<rect x="1029" y="832" width="1" height="3" fill="#000"/>
<text transform="translate(1028.5,844) scale(1,1.13)" x="0" y="0" font-size="9.5" fill="#000" stroke="#000" stroke-width="0.05">26 Apr 20:00</text>
<rect x="1093" y="832" width="1" height="3" fill="#000"/>
<text transform="translate(1092.5,844) scale(1,1.13)" x="0" y="0" font-size="9.5" fill="#000" stroke="#000" stroke-width="0.05">27 Apr 12:00</text>
<rect x="1157" y="832" width="1" height="3" fill="#000"/>
<text transform="translate(1156.5,844) scale(1,1.13)" x="0" y="0" font-size="9.5" fill="#000" stroke="#000" stroke-width="0.05">28 Apr 04:00</text>
<rect x="1221" y="832" width="1" height="3" fill="#000"/>
<text transform="translate(1220.5,844) scale(1,1.13)" x="0" y="0" font-size="9.5" fill="#000" stroke="#000" stroke-width="0.05">30 Apr 23:00</text>
<rect x="1285" y="832" width="1" height="3" fill="#000"/>
<text transform="translate(1284.5,844) scale(1,1.13)" x="0" y="0" font-size="9.5" fill="#000" stroke="#000" stroke-width="0.05">1 May 12:00</text>
<rect x="1349" y="832" width="1" height="3" fill="#000"/>
<text transform="translate(1348.5,844) scale(1,1.13)" x="0" y="0" font-size="9.5" fill="#000" stroke="#000" stroke-width="0.05">2 May 04:00</text>
<rect x="1413" y="832" width="1" height="3" fill="#000"/>
<text transform="translate(1412.5,844) scale(1,1.13)" x="0" y="0" font-size="9.5" fill="#000" stroke="#000" stroke-width="0.05">2 May 20:00</text>
<defs><pattern id="chk" x="0" y="0" width="2" height="2" patternUnits="userSpaceOnUse"><rect width="2" height="2" fill="#f0f0f0"/><rect width="1" height="1" fill="#ffffff"/><rect x="1" y="1" width="1" height="1" fill="#ffffff"/></pattern></defs>
<rect x="5" y="0" width="1" height="22" fill="#a0a0a0"/>
<rect x="6" y="0" width="1" height="22" fill="#ffffff"/>
<g shape-rendering="auto">
<path d="M15.5,2.5 h8 l3,3 v10 h-11 z" fill="#fbfbfb" stroke="#707070" stroke-width="1"/>
<path d="M17,5 h3 M17,8 h6 M17,10.5 h6 M17,13 h4" stroke="#8a8a8a" stroke-width="1" fill="none"/>
<path d="M23.2,8.6 h3.6 v3.6 h3.8 v3.6 h-3.8 v3.8 h-3.6 v-3.8 h-3.8 v-3.6 h3.8 z" fill="#2ed62e" stroke="#138a13" stroke-width="0.8"/>
</g>
<text x="33.3" y="13.3" font-size="11.2" textLength="36.8" lengthAdjust="spacingAndGlyphs" fill="#000" style="font-family:'Liberation Sans','Noto Sans CJK SC',sans-serif">新订单</text>
<g shape-rendering="auto"><path d="M86.5,3.5 Q92,5 97.5,10.5 L90.5,17.5 Q86,13 82,12 Z" fill="#e2b22c" stroke="#9a6a14" stroke-width="1"/><path d="M87,5 Q91.5,6.5 95.5,10.5" fill="none" stroke="#f8e48a" stroke-width="1.4"/></g>
<g shape-rendering="auto"><path d="M112.5,3.5 l2,-1.5 h7 l1.5,1.5 v8 h-10.5 z" fill="#1d8de8" stroke="#1a66c0" stroke-width="0.7"/><path d="M115.5,4 v7" stroke="#e8f4ff" stroke-width="0.9"/><rect x="116.5" y="5.5" width="5.5" height="3" fill="#bfe2fd"/><rect x="117.5" y="6.5" width="3.5" height="0.8" fill="#ffffff"/><path d="M111,17.5 c-1.6,0 -2,-3.4 0.6,-3.6 c0.2,-2.2 2.6,-2.8 3.6,-1.8 c0.9,-2.2 5,-2.4 5.8,0.2 c0.8,-0.8 3.8,-0.4 3.8,2 c1.8,0.2 1.6,3.2 -0.2,3.2 z" fill="#eef1f7" stroke="#5f7aa8" stroke-width="1"/></g>
<defs><linearGradient id="sg" x1="0" x2="1" y1="0" y2="0"><stop offset="0" stop-color="#3c6ed6"/><stop offset="0.5" stop-color="#8fb2e0"/><stop offset="1" stop-color="#3f9e3f"/></linearGradient></defs>
<g shape-rendering="auto" fill="none"><circle cx="146.2" cy="9.8" r="7.3" stroke="url(#sg)" stroke-width="1.1" opacity="0.75"/><circle cx="146.2" cy="9.8" r="4.4" stroke="url(#sg)" stroke-width="1.1" opacity="0.85"/><circle cx="146.2" cy="9.8" r="1.5" fill="#2456c4"/><path d="M146.6,10 V17.6" stroke="#22a022" stroke-width="1.4"/></g>
<g shape-rendering="auto"><path d="M166,10 l7.5,8 l6,-4 l1,-5 z" fill="#f0d040" stroke="#c09020" stroke-width="0.7"/><ellipse cx="173.5" cy="7" rx="7.5" ry="2.8" fill="#70b8e8" stroke="#3a80c0" stroke-width="0.7"/><ellipse cx="173.5" cy="5" rx="4" ry="3" fill="#8cc8f0" stroke="#3a80c0" stroke-width="0.7"/><circle cx="177.5" cy="13.5" r="4" fill="#d83020"/><rect x="176" y="12" width="3" height="3" fill="#fff"/></g>
<text x="186.4" y="13.2" font-size="11.2" textLength="47" lengthAdjust="spacingAndGlyphs" fill="#000" style="font-family:'Liberation Sans','Noto Sans CJK SC',sans-serif">自动交易</text>
<rect x="241" y="0" width="1" height="22" fill="#a0a0a0"/>
<rect x="242" y="0" width="1" height="22" fill="#ffffff"/>
<rect x="245" y="2" width="3" height="1" fill="#a8a8a8"/>
<rect x="245" y="4" width="3" height="1" fill="#a8a8a8"/>
<rect x="245" y="6" width="3" height="1" fill="#a8a8a8"/>
<rect x="245" y="8" width="3" height="1" fill="#a8a8a8"/>
<rect x="245" y="10" width="3" height="1" fill="#a8a8a8"/>
<rect x="245" y="12" width="3" height="1" fill="#a8a8a8"/>
<rect x="245" y="14" width="3" height="1" fill="#a8a8a8"/>
<rect x="245" y="16" width="3" height="1" fill="#a8a8a8"/>
<rect x="245" y="18" width="3" height="1" fill="#a8a8a8"/>
<g fill="#505050"><rect x="259" y="4" width="1" height="14"/><rect x="257" y="15" width="13" height="1"/><path d="M257.8,5.8 L259.5,3.7 L261.2,5.8 Z" shape-rendering="auto"/><path d="M268.5,13.6 L271,15.5 L268.5,17.4 Z" shape-rendering="auto"/></g>
<g fill="#1a9a1a"><rect x="265" y="5" width="1" height="9"/><rect x="265" y="6" width="3" height="1"/><rect x="263" y="12" width="2" height="1"/></g>
<rect x="279" y="0" width="1" height="20" fill="#a0a0a0"/>
<rect x="280" y="0" width="24" height="20" fill="url(#chk)"/>
<rect x="304" y="0" width="1" height="21" fill="#ffffff"/>
<rect x="280" y="20" width="24" height="1" fill="#ffffff"/>
<g fill="#505050"><rect x="287" y="4" width="1" height="14"/><rect x="285" y="15" width="13" height="1"/><path d="M285.8,5.8 L287.5,3.7 L289.2,5.8 Z" shape-rendering="auto"/><path d="M296.5,13.6 L299,15.5 L296.5,17.4 Z" shape-rendering="auto"/></g>
<defs><linearGradient id="cg" x1="0" x2="1"><stop offset="0" stop-color="#20d020"/><stop offset="0.5" stop-color="#90f090"/><stop offset="1" stop-color="#20c020"/></linearGradient></defs>
<rect x="293" y="2" width="1" height="12" fill="#108010"/><rect x="291.5" y="4.5" width="4" height="7" fill="url(#cg)" stroke="#108010" stroke-width="1"/>
<g fill="#505050"><rect x="315" y="4" width="1" height="14"/><rect x="313" y="15" width="13" height="1"/><path d="M313.8,5.8 L315.5,3.7 L317.2,5.8 Z" shape-rendering="auto"/><path d="M324.5,13.6 L327,15.5 L324.5,17.4 Z" shape-rendering="auto"/></g>
<path d="M314.5,12.5 C317,9.5 319,7.4 320.5,7.4 C322.5,7.4 324,10.5 325.8,11.2" fill="none" stroke="#2a9a2a" stroke-width="1.1" shape-rendering="auto"/>
<rect x="336" y="0" width="1" height="22" fill="#a0a0a0"/>
<rect x="337" y="0" width="1" height="22" fill="#ffffff"/>
<g shape-rendering="auto"><line x1="354.79999999999995" y1="12.1" x2="359.9" y2="17.1" stroke="#9a7010" stroke-width="3.2" stroke-linecap="round"/><line x1="354.79999999999995" y1="12.1" x2="359.9" y2="17.1" stroke="#e8cc40" stroke-width="1.8"/><circle cx="350.9" cy="7.9" r="5.4" fill="#dcf0fc" stroke="#3a78c0" stroke-width="1.1"/><rect x="347.5" y="7" width="6.8" height="1.9" fill="#4a86b0"/><rect x="349.95" y="4.5" width="1.9" height="6.8" fill="#4a86b0"/></g>
<g shape-rendering="auto"><line x1="382.79999999999995" y1="12.1" x2="387.9" y2="17.1" stroke="#9a7010" stroke-width="3.2" stroke-linecap="round"/><line x1="382.79999999999995" y1="12.1" x2="387.9" y2="17.1" stroke="#e8cc40" stroke-width="1.8"/><circle cx="378.9" cy="7.9" r="5.4" fill="#dcf0fc" stroke="#3a78c0" stroke-width="1.1"/><rect x="375.5" y="7" width="6.8" height="1.9" fill="#4a86b0"/></g>
<rect x="401" y="2" width="8" height="8" fill="#2f9a1c"/><rect x="402" y="5" width="6" height="3" fill="#ffffff"/><rect x="402" y="8" width="1" height="1.2" fill="#ffffff"/><rect x="407" y="8" width="1" height="1.2" fill="#ffffff"/><rect x="403" y="6" width="4" height="1" fill="#a8dc90"/><rect x="402" y="3" width="1" height="1" fill="#e0f0ff"/>
<rect x="409" y="2" width="8" height="8" fill="#1f4fd0"/><rect x="410" y="5" width="6" height="3" fill="#ffffff"/><rect x="410" y="8" width="1" height="1.2" fill="#ffffff"/><rect x="415" y="8" width="1" height="1.2" fill="#ffffff"/><rect x="411" y="6" width="4" height="1" fill="#a0b8f0"/><rect x="410" y="3" width="1" height="1" fill="#e0f0ff"/>
<rect x="401" y="10" width="8" height="8" fill="#1f4fd0"/><rect x="402" y="13" width="6" height="3" fill="#ffffff"/><rect x="402" y="16" width="1" height="1.2" fill="#ffffff"/><rect x="407" y="16" width="1" height="1.2" fill="#ffffff"/><rect x="403" y="14" width="4" height="1" fill="#a0b8f0"/><rect x="402" y="11" width="1" height="1" fill="#e0f0ff"/>
<rect x="409" y="10" width="8" height="8" fill="#2f9a1c"/><rect x="410" y="13" width="6" height="3" fill="#ffffff"/><rect x="410" y="16" width="1" height="1.2" fill="#ffffff"/><rect x="415" y="16" width="1" height="1.2" fill="#ffffff"/><rect x="411" y="14" width="4" height="1" fill="#a8dc90"/><rect x="410" y="11" width="1" height="1" fill="#e0f0ff"/>
<rect x="426" y="0" width="1" height="22" fill="#a0a0a0"/>
<rect x="427" y="0" width="1" height="22" fill="#ffffff"/>
<rect x="431" y="0" width="25" height="20" fill="url(#chk)"/>
<rect x="456" y="0" width="1" height="21" fill="#ffffff"/>
<rect x="431" y="20" width="25" height="1" fill="#ffffff"/>
<rect x="431" y="0" width="1" height="20" fill="#a0a0a0"/>
<g fill="#505050"><rect x="439" y="4" width="1" height="14"/><rect x="437" y="15" width="13" height="1"/><path d="M437.8,5.8 L439.5,3.7 L441.2,5.8 Z" shape-rendering="auto"/><path d="M448.5,13.6 L451,15.5 L448.5,17.4 Z" shape-rendering="auto"/></g>
<path d="M444.2,6.2 L448.4,9.6 L444.2,12.9 Z" fill="#50e050" stroke="#129012" stroke-width="0.9" shape-rendering="auto"/>
<rect x="459" y="0" width="25" height="20" fill="url(#chk)"/>
<rect x="484" y="0" width="1" height="21" fill="#ffffff"/>
<rect x="459" y="20" width="25" height="1" fill="#ffffff"/>
<rect x="459" y="0" width="1" height="20" fill="#a0a0a0"/>
<g fill="#505050"><rect x="467" y="4" width="1" height="14"/><rect x="465" y="15" width="13" height="1"/><path d="M465.8,5.8 L467.5,3.7 L469.2,5.8 Z" shape-rendering="auto"/><path d="M476.5,13.6 L479,15.5 L476.5,17.4 Z" shape-rendering="auto"/></g>
<rect x="473" y="4" width="1.2" height="10" fill="#1a6a98"/><path d="M474.6,9.5 L477.6,7 L477.3,9 L479.8,9 L479.8,10 L477.3,10 L477.6,12 Z" fill="#f26a10" stroke="#a02808" stroke-width="0.5" shape-rendering="auto"/>
<rect x="488" y="0" width="1" height="22" fill="#a0a0a0"/>
<rect x="489" y="0" width="1" height="22" fill="#ffffff"/>
<g shape-rendering="auto"><path d="M498.8,2.6 h7 l3.4,3.4 v9.4 h-10.4 z" fill="#fbfbfb" stroke="#707070" stroke-width="1"/><path d="M502.5,5.5 Q501.4,6 501.4,9 L501.2,12.5" stroke="#4a4a3a" stroke-width="0.9" fill="none"/><path d="M506.1,8.1 h3.8 v3.9 h3.9 v3.8 h-3.9 v3.9 h-3.8 v-3.9 h-3.9 v-3.8 h3.9 z" fill="#2ed62e" stroke="#118a11" stroke-width="0.8"/></g>
<path d="M519.5,9 h5.5 l-2.75,3 z" fill="#000" shape-rendering="auto"/>
<defs><linearGradient id="clk" x1="0" y1="0" x2="1" y2="1"><stop offset="0" stop-color="#4fb0f4"/><stop offset="0.55" stop-color="#1468c8"/><stop offset="1" stop-color="#0a3f90"/></linearGradient></defs>
<g shape-rendering="auto"><circle cx="544" cy="9.8" r="8" fill="url(#clk)"/><circle cx="544" cy="9.8" r="5.9" fill="#f6f8fb" stroke="#0d4a9a" stroke-width="0.5"/><path d="M543.6,6.6 v3.6 h2.8" stroke="#202020" stroke-width="1.1" fill="none"/><path d="M539.3,9.8 h0.8 M547.9,9.8 h0.8 M544,14.3 v0.8" stroke="#909090" stroke-width="0.8"/></g>
<path d="M558.5,9 h5.5 l-2.75,3 z" fill="#000" shape-rendering="auto"/>
<g><rect x="575" y="3" width="16" height="14" fill="#2a62c0"/><rect x="576" y="5" width="14" height="11" fill="#f6f8fb"/><rect x="575" y="3" width="16" height="2" fill="#6a9ee6"/><rect x="576" y="11" width="14" height="1" fill="#5b86cc"/><path d="M577,9.5 l2.5,-0.5 l2.5,-1.5 l2.5,1 l3,-1.5" stroke="#b02a10" fill="none" stroke-width="1" shape-rendering="auto"/><path d="M577.5,14.5 l2.5,-1 l2,0.5 l2.5,-2 l3,2" stroke="#20a020" fill="none" stroke-width="1" shape-rendering="auto"/></g>
<path d="M597.5,9 h5.5 l-2.75,3 z" fill="#000" shape-rendering="auto"/>
<rect x="609" y="0" width="1" height="22" fill="#a0a0a0"/>
<rect x="610" y="0" width="1" height="22" fill="#ffffff"/>
<rect x="613" y="2" width="3" height="1" fill="#a8a8a8"/>
<rect x="613" y="4" width="3" height="1" fill="#a8a8a8"/>
<rect x="613" y="6" width="3" height="1" fill="#a8a8a8"/>
<rect x="613" y="8" width="3" height="1" fill="#a8a8a8"/>
<rect x="613" y="10" width="3" height="1" fill="#a8a8a8"/>
<rect x="613" y="12" width="3" height="1" fill="#a8a8a8"/>
<rect x="613" y="14" width="3" height="1" fill="#a8a8a8"/>
<rect x="613" y="16" width="3" height="1" fill="#a8a8a8"/>
<rect x="613" y="18" width="3" height="1" fill="#a8a8a8"/>
<rect x="619" y="0" width="25" height="20" fill="url(#chk)"/>
<rect x="644" y="0" width="1" height="21" fill="#ffffff"/>
<rect x="619" y="20" width="25" height="1" fill="#ffffff"/>
<rect x="619" y="0" width="1" height="20" fill="#a0a0a0"/>
<path d="M627,3.5 L627,14.5 L629.5,12 L631.8,17 L633.5,16.2 L631.3,11.4 L635,11.2 Z" fill="#404040" shape-rendering="auto"/>
<g fill="#454545"><rect x="659" y="3" width="1" height="6"/><rect x="659" y="12" width="1" height="6"/><rect x="652" y="10" width="6" height="1"/><rect x="661" y="10" width="6" height="1"/><rect x="659" y="10" width="1" height="1" fill="#8a8a70"/></g>
<rect x="676" y="0" width="1" height="22" fill="#a0a0a0"/>
<rect x="677" y="0" width="1" height="22" fill="#ffffff"/>
<rect x="693" y="4" width="1" height="13" fill="#505050"/>
<rect x="716" y="10" width="12" height="1" fill="#505050"/>
<line x1="743.5" y1="16.8" x2="756" y2="4.7" stroke="#505050" stroke-width="1" shape-rendering="auto"/>
<g shape-rendering="auto" stroke="#383838" fill="none"><path d="M769.6,11.6 L777.8,4 M774.9,16.8 L784.2,8.3 M770.5,15.3 L772.5,14" stroke-width="0.9"/><path d="M772.6,9.3 Q771.8,12.5 772.4,16.7 M778.5,6.3 Q776.2,9 775.3,13.6 M781.4,2 Q781.6,6.5 783,9.4" stroke-width="1.3"/></g>
<text x="780.6" y="18.8" font-size="6.6" font-weight="bold" fill="#383838">E</text>
<g fill="#606060"><rect x="799" y="3" width="1" height="1"/><rect x="801" y="3" width="1" height="1"/><rect x="803" y="3" width="1" height="1"/><rect x="805" y="3" width="1" height="1"/><rect x="807" y="3" width="1" height="1"/><rect x="809" y="3" width="1" height="1"/><rect x="811" y="3" width="1" height="1"/><rect x="799" y="6" width="1" height="1"/><rect x="801" y="6" width="1" height="1"/><rect x="803" y="6" width="1" height="1"/><rect x="805" y="6" width="1" height="1"/><rect x="807" y="6" width="1" height="1"/><rect x="809" y="6" width="1" height="1"/><rect x="811" y="6" width="1" height="1"/><rect x="799" y="10" width="1" height="1"/><rect x="801" y="10" width="1" height="1"/><rect x="803" y="10" width="1" height="1"/><rect x="805" y="10" width="1" height="1"/><rect x="807" y="10" width="1" height="1"/><rect x="809" y="10" width="1" height="1"/><rect x="811" y="10" width="1" height="1"/><rect x="799" y="14" width="1" height="1"/><rect x="801" y="14" width="1" height="1"/><rect x="803" y="14" width="1" height="1"/><rect x="805" y="14" width="1" height="1"/><rect x="807" y="14" width="1" height="1"/></g>
<text x="808.5" y="18.6" font-size="6.5" font-weight="bold" fill="#404040">F</text>
<text x="829.5" y="15.2" font-size="12" font-weight="bold" fill="#505050">A</text>
<g fill="#707070"><rect x="856" y="4" width="1" height="1"/><rect x="856" y="16" width="1" height="1"/><rect x="858" y="4" width="1" height="1"/><rect x="858" y="16" width="1" height="1"/><rect x="860" y="4" width="1" height="1"/><rect x="860" y="16" width="1" height="1"/><rect x="862" y="4" width="1" height="1"/><rect x="862" y="16" width="1" height="1"/><rect x="864" y="4" width="1" height="1"/><rect x="864" y="16" width="1" height="1"/><rect x="866" y="4" width="1" height="1"/><rect x="866" y="16" width="1" height="1"/><rect x="868" y="4" width="1" height="1"/><rect x="868" y="16" width="1" height="1"/><rect x="856" y="4" width="1" height="1"/><rect x="868" y="4" width="1" height="1"/><rect x="856" y="6" width="1" height="1"/><rect x="868" y="6" width="1" height="1"/><rect x="856" y="8" width="1" height="1"/><rect x="868" y="8" width="1" height="1"/><rect x="856" y="10" width="1" height="1"/><rect x="868" y="10" width="1" height="1"/><rect x="856" y="12" width="1" height="1"/><rect x="868" y="12" width="1" height="1"/><rect x="856" y="14" width="1" height="1"/><rect x="868" y="14" width="1" height="1"/><rect x="856" y="16" width="1" height="1"/><rect x="868" y="16" width="1" height="1"/></g>
<text x="858.3" y="15" font-size="12" font-weight="bold" fill="#505050">T</text>
<g shape-rendering="auto" fill="#404040"><path d="M883,7.5 l3,-3 l3,3 l-3,3 z"/><path d="M890,14 l3,-3 l3,3 l-3,3 z"/><path d="M886,11 l3,3 l5,-6" stroke="#404040" stroke-width="1.3" fill="none"/></g>
<path d="M903.5,9 h5.5 l-2.75,3 z" fill="#000" shape-rendering="auto"/>
<rect x="915" y="0" width="1" height="22" fill="#a0a0a0"/>
<rect x="916" y="0" width="1" height="22" fill="#ffffff"/>
<rect x="919" y="2" width="3" height="1" fill="#a8a8a8"/>
<rect x="919" y="4" width="3" height="1" fill="#a8a8a8"/>
<rect x="919" y="6" width="3" height="1" fill="#a8a8a8"/>
<rect x="919" y="8" width="3" height="1" fill="#a8a8a8"/>
<rect x="919" y="10" width="3" height="1" fill="#a8a8a8"/>
<rect x="919" y="12" width="3" height="1" fill="#a8a8a8"/>
<rect x="919" y="14" width="3" height="1" fill="#a8a8a8"/>
<rect x="919" y="16" width="3" height="1" fill="#a8a8a8"/>
<rect x="919" y="18" width="3" height="1" fill="#a8a8a8"/>
<text x="930" y="13.6" font-size="9.8" fill="#3c3c3c">M1</text>
<text x="958.2" y="13.6" font-size="9.8" fill="#3c3c3c">M5</text>
<text x="984.3" y="13.6" font-size="9.8" fill="#3c3c3c">M15</text>
<text x="1012.4" y="13.6" font-size="9.8" fill="#3c3c3c">M30</text>
<text x="1043.6" y="13.6" font-size="9.8" fill="#3c3c3c">H1</text>
<rect x="1065" y="0" width="25" height="20" fill="url(#chk)"/>
<rect x="1090" y="0" width="1" height="21" fill="#ffffff"/>
<rect x="1065" y="20" width="25" height="1" fill="#ffffff"/>
<rect x="1065" y="0" width="1" height="20" fill="#a0a0a0"/>
<text x="1070.5" y="13.6" font-size="9.8" fill="#3c3c3c">H4</text>
<text x="1099" y="13.6" font-size="9.8" fill="#3c3c3c">D1</text>
<text x="1126.8" y="13.6" font-size="9.8" fill="#3c3c3c">W1</text>
<text x="1153.3" y="13.6" font-size="9.8" fill="#3c3c3c">MN</text>
<rect x="1176" y="0" width="1" height="22" fill="#a0a0a0"/>
<rect x="1177" y="0" width="1" height="22" fill="#ffffff"/>
<g shape-rendering="auto"><circle cx="1646.6" cy="7.4" r="3.9" fill="#fff" stroke="#2456c8" stroke-width="1.3"/><line x1="1643.8" y1="10.2" x2="1639.2" y2="14.8" stroke="#2456c8" stroke-width="2.2" stroke-linecap="round"/></g>
<g shape-rendering="auto"><ellipse cx="1669" cy="12" rx="6" ry="4.5" fill="#e4e6ee" stroke="#a0a0a0" stroke-width="0.8"/><path d="M1666,15.5 l-0.5,3 l3,-2.5 z" fill="#a0a0a0"/><circle cx="1677.4" cy="7.6" r="8.2" fill="#dc2a14"/><circle cx="1677.4" cy="6" r="6" fill="#e8553a" opacity="0.45"/></g>
<text x="1673.6" y="12" font-size="12" fill="#fff" style="font-family:'Liberation Sans',sans-serif">1</text>
</svg></body></html>
